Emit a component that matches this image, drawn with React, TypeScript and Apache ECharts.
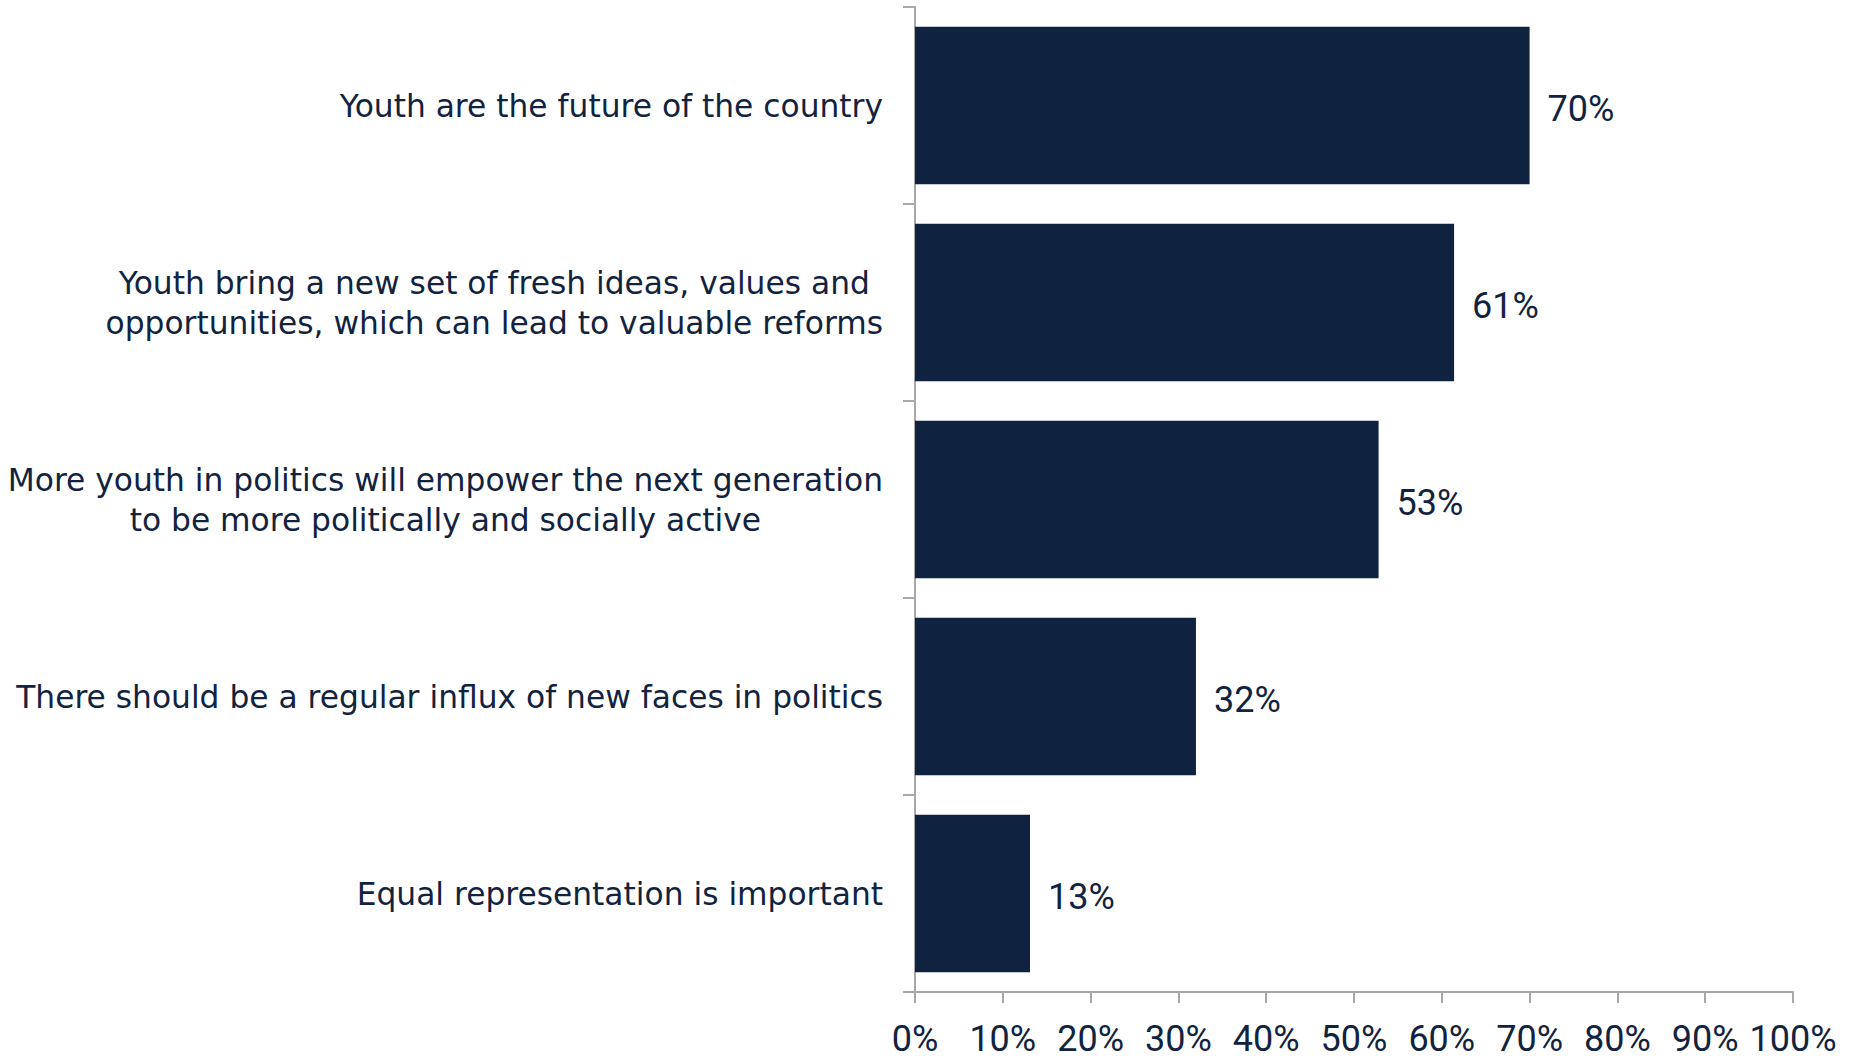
import React, { useEffect, useRef } from "react";
import * as echarts from "echarts";

const categories: string[] = [
  "Youth are the future of the country",
  "Youth bring a new set of fresh ideas, values and\nopportunities, which can lead to valuable reforms",
  "More youth in politics will empower the next generation\nto be more politically and socially active",
  "There should be a regular influx of new faces in politics",
  "Equal representation is important",
];
const values: number[] = [70, 61.4, 52.8, 32.0, 13.1];
const axisMin = 0;
const axisMax = 100;
const axisStep = 10;

const NAVY = "#0F2340";
const TEXT = "#12233F";
const GRAY = "#A9A9AC";
const NUM_FONT = "'Roboto', sans-serif";
const CAT_FONT = "'DejaVu Sans', 'Open Sans', sans-serif";

export default function App() {
  const ref = useRef<HTMLDivElement>(null);
  useEffect(() => {
    if (!ref.current) return;
    const chart = echarts.init(ref.current, null, { renderer: "svg" });
    chart.setOption({
      animation: false,
      backgroundColor: "#ffffff",
      grid: {
        left: 915,
        right: 65,
        top: 7,
        bottom: 67,
        containLabel: false,
        outerBoundsMode: "none",
      },
      xAxis: {
        type: "value",
        min: axisMin,
        max: axisMax,
        interval: axisStep,
        splitLine: { show: false },
        axisLine: { show: true, lineStyle: { color: GRAY, width: 2 } },
        axisTick: { show: true, length: 11, lineStyle: { color: GRAY, width: 2 } },
        axisLabel: {
          formatter: "{value}%",
          color: TEXT,
          fontFamily: NUM_FONT,
          fontSize: 36,
          lineHeight: 34,
          margin: 30,
        },
      },
      yAxis: {
        type: "category",
        inverse: true,
        data: categories,
        axisLine: { show: true, lineStyle: { color: GRAY, width: 2 } },
        axisTick: { show: true, length: 12, lineStyle: { color: GRAY, width: 2 } },
        axisLabel: {
          margin: 32,
          formatter: (v: string) =>
            v
              .split("\n")
              .map((l) => "{c|" + l + "}")
              .join("\n"),
          rich: {
            c: {
              align: "center",
              color: TEXT,
              fontFamily: CAT_FONT,
              fontSize: 31.3,
              lineHeight: 40,
            },
          },
        },
      },
      series: [
        {
          type: "bar",
          data: values,
          barCategoryGap: "20%",
          itemStyle: { color: NAVY },
          label: {
            show: true,
            position: "right",
            distance: 18,
            offset: [0, 3],
            color: TEXT,
            fontFamily: NUM_FONT,
            fontSize: 36,
            formatter: (p: any) => Math.round(p.value) + "%",
          },
        },
      ],
    });
    return () => chart.dispose();
  }, []);
  return (
    <div
      ref={ref}
      style={{ position: "absolute", left: 0, top: 0, width: 1858, height: 1059 }}
    />
  );
}
